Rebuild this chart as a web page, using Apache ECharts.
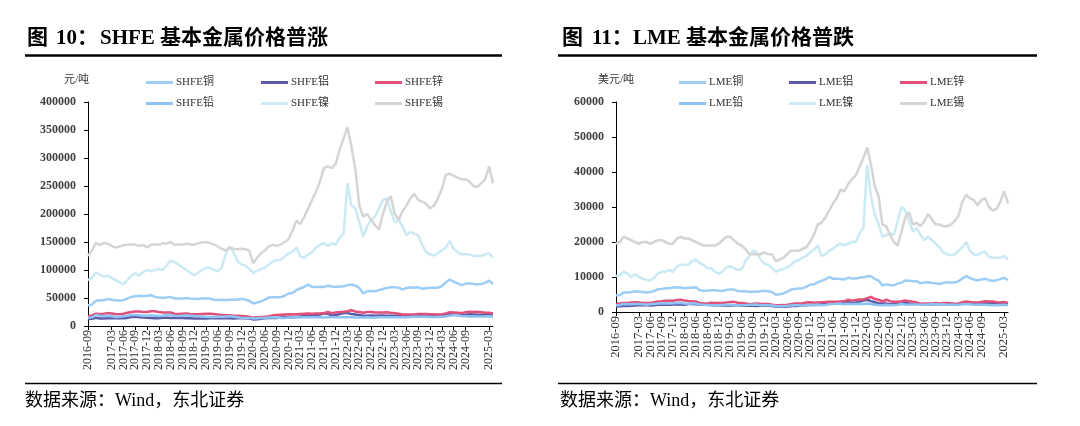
<!DOCTYPE html>
<html>
<head>
<meta charset="utf-8">
<script src="https://cdn.jsdelivr.net/npm/echarts@6/dist/echarts.min.js"></script>
<style>
  html, body { margin: 0; padding: 0; background: #fff; }
  #chart { width: 1080px; height: 426px; }
</style>
</head>
<body>
<div id="chart"></div>
<script>
// monthly categories 2016-09 .. 2025-04
const months = []
for (let y = 2016, m = 9; y < 2025 || (y === 2025 && m <= 4); m++) {
  if (m > 12) { m = 1; y++ }
  if (y === 2025 && m > 4) break
  months.push(y + '-' + (m < 10 ? '0' + m : m))
}

// SHFE, 元/吨
const shfeCu = [37000, 38000, 45000, 46000,
  46000, 48000, 47000, 46000, 45500, 46000, 49000, 52000, 53000, 54000, 53000, 54000,
  55000, 52000, 51000, 50500, 51000, 52000, 49000, 49000, 49000, 50000, 49000, 48500,
  48000, 49500, 49000, 49000, 47000, 46500, 47000, 46500, 47000, 47000, 47000, 48500,
  47000, 45000, 40000, 42000, 44000, 47000, 51000, 51500, 51500, 51500, 54000, 58000,
  59000, 64000, 67000, 70000, 74000, 70000, 69500, 70000, 69500, 72000, 70500, 69500,
  70500, 71000, 73000, 74000, 72000, 68000, 58000, 62000, 62500, 62000, 64000, 66000,
  68000, 69000, 69000, 68500, 65000, 68000, 69000, 68500, 69000, 66500, 67500, 68500,
  68500, 68500, 71000, 78000, 83000, 79000, 76000, 73000, 75500, 76500, 75000, 74500,
  75000, 77000, 81000, 75000]
const shfeAl = [12500, 13000, 14500, 13500,
  13500, 14000, 14000, 13800, 13800, 14000, 14500, 16000, 16500, 15800, 15000, 14700,
  14500, 14000, 13900, 14600, 14700, 14300, 14200, 14700, 14300, 14000, 13800, 13500,
  13400, 13500, 13600, 13900, 14000, 13800, 14000, 14000, 13800, 13600, 13900, 14000,
  14000, 13300, 11800, 12000, 13000, 13900, 14500, 14600, 14500, 15000, 16000, 15800,
  15000, 16500, 17000, 18000, 19000, 18600, 19500, 20500, 22500, 22000, 18500, 19500,
  21500, 23000, 23000, 21500, 20500, 19500, 18200, 18500, 18700, 18300, 18800, 18800,
  18500, 18500, 18400, 18700, 18200, 18300, 18200, 18800, 19500, 19000, 19000, 19000,
  19000, 18800, 19500, 20500, 21000, 20500, 19500, 19500, 20000, 21000, 20500, 20000,
  20000, 20500, 20800, 20000]
const shfeZn = [17500, 19000, 22000, 21500,
  22000, 23000, 22500, 21500, 21000, 22000, 23500, 25000, 26000, 26000, 25000, 25000,
  26500, 26500, 25000, 24000, 24000, 24000, 22000, 21500, 22000, 22500, 21500, 21000,
  21000, 21500, 22000, 22000, 21500, 20500, 19500, 19000, 19000, 18500, 18500, 18000,
  17500, 16500, 15000, 15500, 16000, 16500, 17500, 19000, 19500, 20000, 20500, 21000,
  20500, 21000, 21500, 22000, 22500, 22000, 22500, 22500, 23000, 25000, 23000, 24000,
  25000, 25500, 26500, 28000, 26000, 25000, 23500, 25000, 25000, 24000, 24000, 24000,
  24500, 23500, 23000, 22000, 20500, 20500, 20500, 20500, 21500, 21500, 21500, 21000,
  21000, 20500, 21000, 22500, 24500, 24000, 23500, 23000, 24500, 25500, 25000, 25500,
  24500, 23500, 23500, 22500]
const shfePb = [14500, 15500, 19500, 18500,
  18000, 18500, 17500, 16000, 16500, 17500, 18500, 19500, 19500, 19000, 18500, 18500,
  19000, 18500, 18000, 18500, 19500, 19500, 18500, 18000, 18500, 19000, 18500, 18000,
  17500, 17000, 16500, 16000, 16000, 16500, 16500, 16500, 17500, 16500, 15500, 14500,
  14500, 14500, 13500, 14000, 14500, 14500, 15000, 15500, 15000, 14500, 14500, 15000,
  15000, 15500, 15000, 15500, 15500, 15500, 15500, 15500, 15000, 15500, 15500, 15500,
  15500, 15500, 15500, 15500, 15000, 15000, 15000, 15500, 15000, 15000, 15500, 15500,
  15500, 15500, 15500, 15500, 15500, 15500, 16000, 16500, 16500, 16500, 16500, 16000,
  16000, 16000, 16500, 17000, 18500, 19000, 19000, 18000, 17500, 17000, 17000, 17000,
  17000, 17000, 17500, 17000]
const shfeNi = [82000, 86000, 96000, 92000,
  88000, 90000, 86000, 82000, 78000, 75000, 82000, 90000, 94000, 90000, 96000, 100000,
  98000, 100000, 102000, 100000, 108000, 117000, 114000, 110000, 105000, 100000, 95000, 91000,
  95000, 100000, 104000, 104000, 100000, 98000, 104000, 128000, 142000, 132000, 116000, 110000,
  108000, 102000, 95000, 98000, 102000, 104000, 110000, 115000, 118000, 118000, 124000, 130000,
  132000, 140000, 124000, 122000, 128000, 132000, 140000, 145000, 148000, 143000, 148000, 145000,
  158000, 165000, 255000, 215000, 210000, 185000, 160000, 178000, 190000, 195000, 210000, 225000,
  228000, 205000, 185000, 190000, 178000, 162000, 168000, 165000, 162000, 145000, 132000, 128000,
  126000, 130000, 135000, 140000, 152000, 138000, 132000, 128000, 128000, 128000, 125000, 125000,
  125000, 128000, 130000, 122000]
const shfeSn = [125000, 135000, 148000, 145000,
  148000, 147000, 143000, 140000, 142000, 144000, 145000, 146000, 145000, 143000, 145000, 140000,
  145000, 146000, 145000, 148000, 147000, 150000, 145000, 146000, 145000, 147000, 146000, 145000,
  148000, 149000, 150000, 148000, 146000, 142000, 138000, 135000, 140000, 138000, 137000, 138000,
  137000, 135000, 112000, 122000, 130000, 135000, 142000, 145000, 143000, 145000, 150000, 155000,
  170000, 188000, 182000, 195000, 210000, 225000, 240000, 258000, 282000, 285000, 282000, 290000,
  315000, 335000, 355000, 320000, 280000, 215000, 195000, 200000, 190000, 180000, 172000, 200000,
  222000, 232000, 200000, 190000, 205000, 215000, 228000, 236000, 225000, 222000, 218000, 210000,
  215000, 228000, 245000, 270000, 272000, 268000, 265000, 262000, 262000, 258000, 250000, 248000,
  255000, 262000, 285000, 255000]

// LME, 美元/吨
const lmeCu = [4800, 4800, 5600, 5600,
  5700, 5900, 5800, 5700, 5600, 5700, 6000, 6500, 6600, 6800, 6800, 7000,
  7100, 7000, 6800, 6900, 6900, 7100, 6200, 6100, 6100, 6200, 6200, 6100,
  6000, 6300, 6400, 6400, 6000, 5900, 5950, 5700, 5800, 5800, 5900, 6100,
  5900, 5700, 4900, 5100, 5300, 5800, 6400, 6600, 6700, 6800, 7200, 7800,
  7900, 8500, 8900, 9300, 10000, 9500, 9500, 9400, 9300, 9800, 9600, 9600,
  9800, 9900, 10200, 10200, 9400, 9000, 7600, 7900, 7700, 7600, 8100, 8400,
  9000, 8900, 8800, 8800, 8200, 8400, 8500, 8300, 8200, 8000, 8300, 8500,
  8400, 8400, 8800, 9600, 10300, 9700, 9300, 9000, 9300, 9500, 9100, 8900,
  9100, 9400, 9800, 9100]
const lmeAl = [1600, 1650, 1750, 1700,
  1800, 1850, 1900, 1900, 1920, 1880, 1900, 2050, 2100, 2150, 2100, 2150,
  2200, 2150, 2050, 2300, 2300, 2200, 2050, 2100, 2050, 2000, 1950, 1900,
  1850, 1850, 1900, 1850, 1780, 1780, 1800, 1750, 1780, 1730, 1780, 1780,
  1770, 1700, 1550, 1480, 1500, 1580, 1650, 1750, 1750, 1820, 1950, 2000,
  2000, 2100, 2200, 2350, 2450, 2450, 2550, 2650, 2900, 2900, 2650, 2750,
  3000, 3300, 3500, 3100, 2800, 2500, 2400, 2400, 2200, 2250, 2350, 2400,
  2550, 2400, 2350, 2350, 2250, 2200, 2200, 2150, 2250, 2200, 2200, 2250,
  2200, 2200, 2250, 2550, 2600, 2500, 2350, 2450, 2550, 2600, 2600, 2550,
  2600, 2650, 2600, 2400]
const lmeZn = [2300, 2400, 2600, 2600,
  2700, 2800, 2750, 2600, 2550, 2600, 2800, 3000, 3100, 3250, 3200, 3200,
  3400, 3500, 3300, 3150, 3050, 3000, 2600, 2500, 2450, 2650, 2550, 2550,
  2600, 2700, 2850, 2900, 2650, 2600, 2450, 2300, 2350, 2450, 2350, 2300,
  2300, 2100, 1900, 1950, 2000, 2050, 2250, 2450, 2450, 2500, 2700, 2800,
  2650, 2750, 2800, 2850, 2950, 2900, 2950, 3000, 3050, 3500, 3250, 3450,
  3600, 3600, 3950, 4300, 3700, 3500, 3000, 3500, 3100, 2950, 2950, 3050,
  3300, 3100, 2900, 2700, 2350, 2400, 2400, 2400, 2550, 2450, 2550, 2550,
  2500, 2350, 2450, 2800, 3000, 2850, 2750, 2700, 2850, 3050, 3000, 3000,
  2800, 2750, 2850, 2600]
const lmePb = [1950, 2000, 2300, 2200,
  2200, 2300, 2250, 2200, 2100, 2200, 2300, 2400, 2450, 2500, 2450, 2500,
  2600, 2550, 2400, 2350, 2400, 2450, 2150, 2050, 2000, 1950, 1950, 1950,
  2000, 2050, 2050, 1950, 1800, 1900, 1950, 2050, 2100, 2150, 1950, 1900,
  1950, 1850, 1700, 1650, 1650, 1750, 1850, 1950, 1900, 1800, 1950, 2000,
  2000, 2100, 1950, 2000, 2200, 2250, 2350, 2400, 2200, 2350, 2300, 2300,
  2350, 2300, 2400, 2300, 2100, 2000, 1950, 2050, 1900, 2000, 2100, 2300,
  2150, 2100, 2150, 2150, 2100, 2100, 2150, 2200, 2250, 2150, 2200, 2050,
  2050, 2050, 2000, 2200, 2250, 2200, 2100, 2050, 2050, 2050, 2000, 1950,
  1950, 2000, 2050, 1950]
const lmeNi = [10300, 10500, 11500, 11000,
  10000, 10800, 10000, 9500, 9200, 9000, 9800, 11000, 11500, 11500, 12000, 11500,
  13000, 13500, 13500, 13500, 14500, 15000, 14000, 13500, 12500, 12500, 11500, 11000,
  11500, 12800, 13000, 12500, 12000, 12200, 14500, 16000, 17500, 17000, 15000, 13800,
  13500, 12500, 11500, 12000, 12300, 12800, 13500, 14500, 14700, 15500, 16000, 17000,
  17800, 19000, 16000, 16500, 17500, 18000, 19000, 19500, 19000, 19500, 20000, 20000,
  22500, 24000, 42000, 33000, 28000, 25000, 21500, 22000, 22500, 22000, 26000, 30000,
  29000, 26000, 23000, 24000, 22000, 20500, 21500, 20500, 19500, 18500, 17000, 16500,
  16200, 16500, 17500, 18500, 20000, 17500, 16500, 16200, 17000, 17200, 15800, 15500,
  15500, 15500, 16000, 15000]
const lmeSn = [19500, 20000, 21500, 21000,
  20500, 20000, 19500, 20000, 20000, 19500, 20000, 20500, 20500, 20000, 19500, 19500,
  21000, 21500, 21000, 21000, 20500, 20000, 19500, 19000, 19000, 19000, 19000, 19500,
  20500, 21500, 21500, 20500, 19500, 19000, 18000, 16500, 16500, 16500, 16500, 17000,
  16500, 16500, 14500, 15000, 15500, 16500, 17500, 17500, 17500, 18000, 18500, 20000,
  22000, 25000, 25500, 27000, 29000, 31000, 32500, 35000, 34500, 36500, 38000, 39000,
  41500, 44000, 47000, 42000, 36000, 33000, 25000, 24500, 22000, 20000, 19000, 23000,
  27000, 28500, 25000, 25500, 24500, 26000, 28000, 26500, 25000, 25000, 24500, 24500,
  25000, 26000, 27500, 31500, 33500, 32500, 32000, 30500, 32000, 32500, 30000, 29000,
  29500, 31500, 34500, 31000]

const metals = ['铜', '铝', '锌', '铅', '镍', '锡']
const colors = ['#9ECDF5', '#5B5BA8', '#E05079', '#8DC3F2', '#CBEAF3', '#D5D5D5']
const shfeData = [shfeCu, shfeAl, shfeZn, shfePb, shfeNi, shfeSn]
const lmeData = [lmeCu, lmeAl, lmeZn, lmePb, lmeNi, lmeSn]

const serif = "'Liberation Serif', 'Noto Sans CJK SC', serif"
const textColor = '#333'

const chart = echarts.init(document.getElementById('chart'))

// one label / tick every 3 months
function everyQuarter (idx) { return idx % 3 === 0 }

function xAxis (gridIndex, fontSize) {
  return {
    type: 'category',
    gridIndex: gridIndex,
    data: months,
    boundaryGap: false,
    axisLine: { lineStyle: { color: '#000', width: 1 } },
    axisTick: { interval: everyQuarter, length: 4, lineStyle: { color: '#000' } },
    axisLabel: {
      interval: everyQuarter,
      showMinLabel: true,
      showMaxLabel: true,
      hideOverlap: false,
      rotate: 90,
      margin: 4,
      fontSize: fontSize,
      fontFamily: serif,
      color: textColor
    },
    splitLine: { show: false }
  }
}

function yAxis (gridIndex, max, interval) {
  return {
    type: 'value',
    gridIndex: gridIndex,
    min: 0,
    max: max,
    interval: interval,
    axisLine: { show: true, lineStyle: { color: '#000', width: 1 } },
    axisTick: { show: true, length: 4, lineStyle: { color: '#000' } },
    axisLabel: {
      margin: 12,
      fontSize: 12,
      fontWeight: 'bold',
      fontFamily: serif,
      color: '#404040',
      formatter: function (v) { return String(v) }
    },
    splitLine: { show: false }
  }
}

const series = []
const legends = []
const shfeLegendX = [146, 261, 375]
const lmeLegendX = [679, 789, 900]
metals.forEach(function (name, i) {
  series.push({
    name: 'SHFE' + name,
    type: 'line',
    xAxisIndex: 0,
    yAxisIndex: 0,
    data: shfeData[i],
    symbol: 'none',
    lineStyle: { width: 2.5, color: colors[i] },
    itemStyle: { color: colors[i] }
  })
  series.push({
    name: 'LME' + name,
    type: 'line',
    xAxisIndex: 1,
    yAxisIndex: 1,
    data: lmeData[i],
    symbol: 'none',
    lineStyle: { width: 2.5, color: colors[i] },
    itemStyle: { color: colors[i] }
  })
  const row = i < 3 ? 77 : 98
  ;[['SHFE', shfeLegendX], ['LME', lmeLegendX]].forEach(function (p) {
    legends.push({
      data: [p[0] + name],
      left: p[1][i % 3],
      top: row,
      padding: 0,
      icon: 'rect',
      itemWidth: 27,
      itemHeight: 3,
      itemGap: 0,
      selectedMode: false,
      textStyle: { fontSize: 11, fontFamily: serif, color: textColor, padding: [0, 0, 0, -2] }
    })
  })
})

function text (x, y, str, size, weight) {
  return {
    type: 'text',
    left: x,
    top: y,
    style: {
      text: str,
      font: (weight || 'normal') + ' ' + size + 'px ' + serif,
      fill: '#000'
    }
  }
}

function hline (x1, x2, y, w) {
  return {
    type: 'line',
    shape: { x1: x1, y1: y, x2: x2, y2: y },
    style: { stroke: '#000', lineWidth: w }
  }
}

const options = {
  animation: false,
  backgroundColor: '#fff',
  grid: [
    { left: 88, top: 102, width: 405, height: 224 },
    { left: 616, top: 102, width: 392, height: 210 }
  ],
  xAxis: [xAxis(0, 12), xAxis(1, 12.5)],
  yAxis: [yAxis(0, 400000, 50000), yAxis(1, 60000, 10000)],
  legend: legends,
  series: series,
  graphic: [
    text(27, 28, '图', 21, 'bold'),
    text(56, 28, '10：', 21, 'bold'),
    text(100, 28, 'SHFE 基本金属价格普涨', 21, 'bold'),
    text(562, 28, '图', 21, 'bold'),
    text(592, 28, '11：', 21, 'bold'),
    text(633, 28, 'LME 基本金属价格普跌', 21, 'bold'),
    hline(25, 502, 55.5, 2.3),
    hline(558, 1037, 55.5, 2.3),
    {
      type: 'text', left: 64, top: 75,
      style: { text: '元/吨', font: '11px ' + serif, fill: textColor }
    },
    {
      type: 'text', left: 598, top: 75,
      style: { text: '美元/吨', font: '11px ' + serif, fill: textColor }
    },
    hline(25, 502, 383.5, 1.7),
    hline(558, 1037, 383.5, 1.7),
    text(25, 392, '数据来源：Wind，东北证券', 18),
    text(560, 392, '数据来源：Wind，东北证券', 18)
  ]
}

chart.setOption(options)
</script>
</body>
</html>
